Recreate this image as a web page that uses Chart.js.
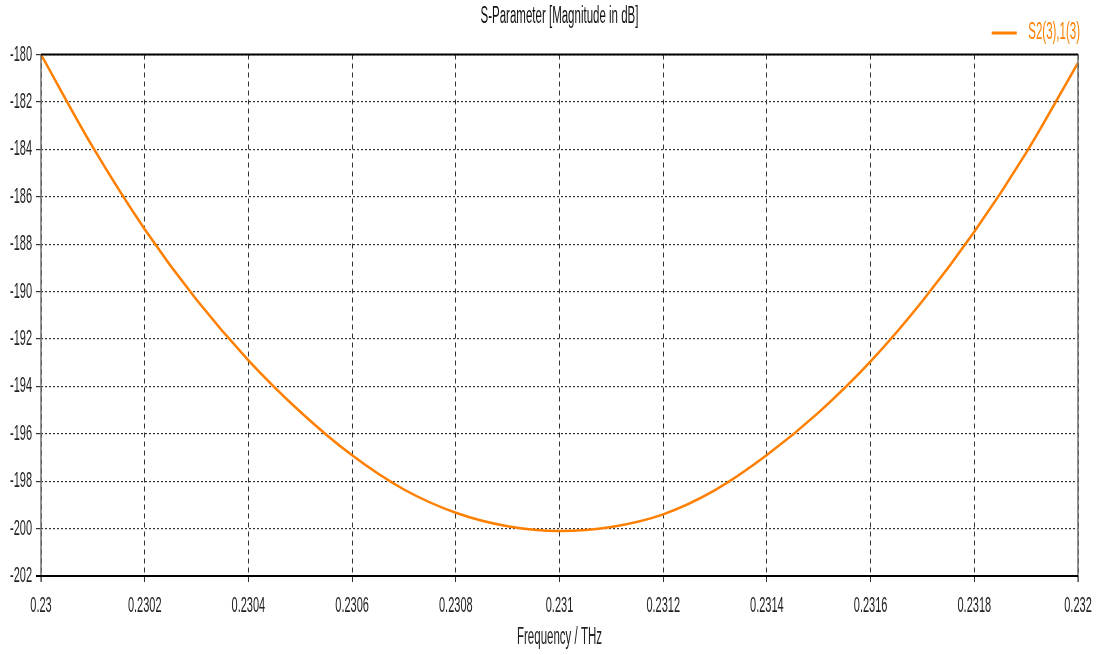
<!DOCTYPE html>
<html>
<head>
<meta charset="utf-8">
<script src="https://cdn.jsdelivr.net/npm/chart.js@4.4.1/dist/chart.umd.min.js"></script>
<style>
  html, body { margin: 0; padding: 0; background: #fff; }
  #wrap { width: 1097px; height: 655px; position: relative; }
</style>
</head>
<body>
<div id="wrap"><canvas id="c"></canvas></div>
<script>
// Transmission S2(3),1(3) magnitude versus frequency
const freqTHz = [
  0.2300, 0.2301, 0.2302, 0.2303, 0.2304, 0.2305, 0.2306, 0.2307,
  0.2308, 0.2309, 0.2310, 0.2311, 0.2312, 0.2313, 0.2314, 0.2315,
  0.2316, 0.2317, 0.2318, 0.2319, 0.2320
];
const magDb = [
  -180.00, -183.91, -187.37, -190.35, -192.90, -195.07, -196.91, -198.35,
  -199.33, -199.90, -200.10, -199.93, -199.40, -198.38, -196.90, -195.10,
  -192.95, -190.40, -187.48, -184.15, -180.35
];
const seriesName = 'S2(3),1(3)';
const chartTitle = 'S-Parameter [Magnitude in dB]';
const xAxisTitle = 'Frequency / THz';

const ORANGE = '#ff8000';
const FONT = "'Liberation Sans', Arial, sans-serif";
const SQUEEZE = 0.5;   // tall, condensed lettering

const points = freqTHz.map((f, i) => ({ x: f, y: magDb[i] }));

const canvas = document.getElementById('c');
const ctx2d = canvas.getContext('2d');

// condensed text: every label is drawn at half its natural width
{
  const origFill = ctx2d.fillText.bind(ctx2d);
  const origMeasure = ctx2d.measureText.bind(ctx2d);
  ctx2d.measureText = (t) => {
    const m = origMeasure(t);
    return {
      width: m.width * SQUEEZE,
      actualBoundingBoxAscent: m.actualBoundingBoxAscent,
      actualBoundingBoxDescent: m.actualBoundingBoxDescent,
      actualBoundingBoxLeft: m.actualBoundingBoxLeft * SQUEEZE,
      actualBoundingBoxRight: m.actualBoundingBoxRight * SQUEEZE,
      fontBoundingBoxAscent: m.fontBoundingBoxAscent,
      fontBoundingBoxDescent: m.fontBoundingBoxDescent
    };
  };
  ctx2d.fillText = (t, x, y, maxW) => {
    const w = origMeasure(t).width * SQUEEZE;
    origFill(t, x, y, maxW !== undefined ? Math.min(maxW, w) : w);
  };
}

// white page plus the frame of the plot area
const framePlugin = {
  id: 'frame',
  beforeDraw(chart) {
    const ctx = chart.ctx;
    ctx.save();
    ctx.fillStyle = '#fff';
    ctx.fillRect(0, 0, chart.width, chart.height);
    ctx.restore();
  },
  afterDatasetsDraw(chart) {
    const { ctx, chartArea: a } = chart;
    ctx.save();
    ctx.setLineDash([]);
    // left axis and right edge (grey)
    ctx.strokeStyle = '#707070';
    ctx.lineWidth = 1.5;
    ctx.beginPath();
    ctx.moveTo(a.left, a.top);
    ctx.lineTo(a.left, a.bottom + 6);
    ctx.moveTo(a.right, a.top);
    ctx.lineTo(a.right, a.bottom + 6);
    ctx.stroke();
    // top edge and bottom axis (black)
    ctx.strokeStyle = '#000';
    ctx.lineWidth = 2;
    ctx.beginPath();
    ctx.moveTo(a.left, a.top);
    ctx.lineTo(a.right, a.top);
    ctx.moveTo(a.left - 5, a.bottom);
    ctx.lineTo(a.right, a.bottom);
    ctx.stroke();
    ctx.restore();
  }
};

new Chart(ctx2d, {
  type: 'line',
  data: {
    datasets: [{
      label: seriesName,
      data: points,
      borderColor: ORANGE,
      backgroundColor: ORANGE,
      borderWidth: 2.5,
      pointRadius: 0,
      cubicInterpolationMode: 'monotone',
      clip: 4
    }]
  },
  options: {
    responsive: true,
    maintainAspectRatio: false,
    animation: false,
    devicePixelRatio: 1,
    layout: { padding: { right: 9.5, top: 0, left: 0, bottom: 0 } },
    plugins: {
      title: {
        display: true,
        fullSize: false,
        text: chartTitle,
        color: '#111',
        font: { family: FONT, size: 23, weight: 'normal', lineHeight: 1 },
        padding: { top: 5, bottom: -14 }
      },
      legend: {
        display: true,
        position: 'top',
        align: 'end',
        labels: {
          color: ORANGE,
          font: { family: FONT, size: 23 },
          boxWidth: 25,
          boxHeight: 3,
          padding: 7.5,
          generateLabels: () => [{
            text: seriesName,
            fillStyle: ORANGE,
            strokeStyle: ORANGE,
            lineWidth: 0,
            fontColor: ORANGE,
            datasetIndex: 0,
            hidden: false
          }]
        }
      },
      tooltip: { enabled: false }
    },
    scales: {
      x: {
        type: 'linear',
        min: 0.23,
        max: 0.232,
        afterFit: (s) => { s.height = 79; s.paddingRight = 19; s.paddingLeft = 0; },
        ticks: {
          stepSize: 0.0002,
          color: '#222',
          font: { family: FONT, size: 22 },
          padding: 11,
          maxRotation: 0,
          autoSkip: false,
          callback: (v) => parseFloat(Number(v).toFixed(4)).toString()
        },
        grid: {
          color: '#333',
          lineWidth: 1,
          drawTicks: true,
          tickLength: 6,
          tickColor: '#333'
        },
        border: { display: false, dash: [5, 4] },
        title: {
          display: true,
          text: xAxisTitle,
          color: '#222',
          font: { family: FONT, size: 23 },
          padding: { top: 0, bottom: 4 }
        }
      },
      y: {
        type: 'linear',
        min: -202,
        max: -180,
        afterFit: (s) => { s.width = 41; },
        ticks: {
          stepSize: 2,
          color: '#222',
          font: { family: FONT, size: 22 },
          padding: 4
        },
        grid: {
          color: '#333',
          lineWidth: 1.2,
          drawTicks: true,
          tickLength: 5,
          tickColor: '#333'
        },
        border: { display: false, dash: [2, 2] }
      }
    }
  },
  plugins: [framePlugin]
});
</script>
</body>
</html>
